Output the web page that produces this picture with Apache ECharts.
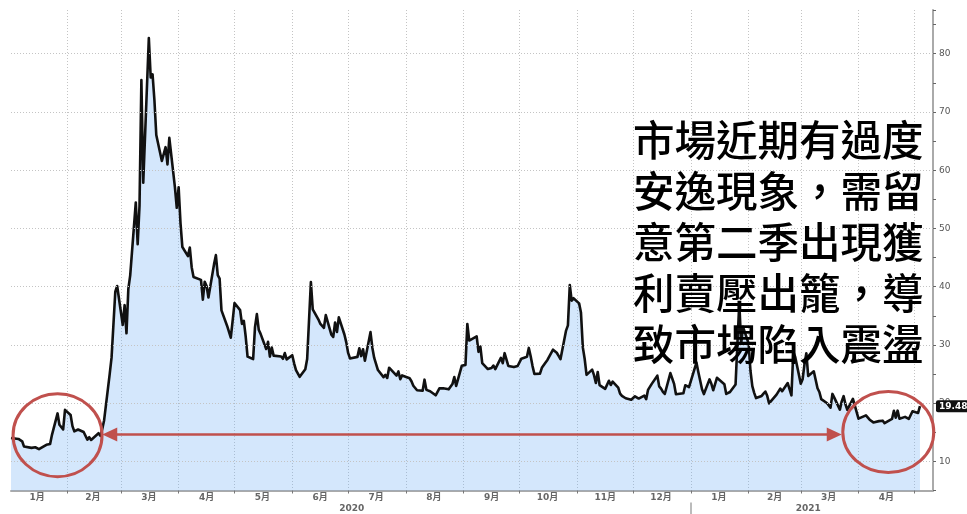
<!DOCTYPE html>
<html>
<head>
<meta charset="utf-8">
<script src="https://cdn.jsdelivr.net/npm/echarts@6/dist/echarts.min.js"></script>
<style>
  html, body { margin: 0; padding: 0; background: #fff; }
  #chart { width: 967px; height: 514px; }
</style>
</head>
<body>
<div id="chart"></div>
<script>
// VIX daily closes, one array per month (trading days in order)
const vix2020_01 = [14.00, 14.02, 13.85, 13.79, 13.45, 12.54, 12.56, 12.32, 12.39, 12.42, 12.32, 12.10, 12.85, 12.91, 12.98, 14.56, 18.23, 16.28, 16.39, 15.49, 18.84];
const vix2020_02 = [17.97, 16.05, 15.15, 14.96, 15.47, 15.04, 15.18, 13.74, 14.15, 13.68, 14.83, 14.38, 15.56, 17.08, 25.03, 27.85, 27.56, 39.16, 40.11];
const vix2020_03 = [33.42, 36.82, 31.99, 39.62, 41.94, 54.46, 47.30, 53.90, 75.47, 57.83, 82.69, 75.91, 76.45, 72.00, 66.04, 61.59, 61.67, 63.95, 61.00, 65.54, 57.08, 53.54];
const vix2020_04 = [57.06, 50.91, 46.80, 45.24, 46.70, 43.35, 41.67, 41.17, 37.76, 40.84, 40.11, 38.15, 43.83, 45.41, 41.98, 41.38, 35.93, 33.29, 33.57, 31.23, 34.15];
const vix2020_05 = [37.19, 35.97, 33.61, 34.12, 31.44, 27.98, 27.57, 33.04, 35.28, 32.61, 31.89, 29.30, 30.53, 27.99, 29.53, 28.16, 28.01, 27.62, 28.59, 27.51];
const vix2020_06 = [28.23, 26.84, 25.66, 25.81, 24.52, 25.81, 27.57, 27.57, 40.79, 36.09, 34.40, 33.67, 33.47, 32.94, 35.12, 31.77, 31.37, 33.84, 32.22, 34.73, 31.78, 30.43];
const vix2020_07 = [28.62, 27.68, 27.94, 29.43, 28.08, 29.26, 27.29, 32.19, 29.52, 27.76, 28.00, 25.68, 24.46, 24.84, 24.32, 26.08, 25.84, 24.74, 25.44, 24.10, 24.76, 24.46];
const vix2020_08 = [24.28, 23.76, 22.99, 22.65, 22.21, 22.13, 24.03, 22.28, 22.13, 22.05, 21.35, 21.51, 22.54, 22.72, 22.54, 22.37, 22.03, 23.27, 24.47, 22.96, 26.41];
const vix2020_09 = [26.12, 26.57, 33.60, 30.75, 31.46, 28.81, 29.71, 26.87, 25.85, 25.59, 26.04, 26.46, 25.83, 27.78, 26.86, 28.58, 28.51, 26.38, 26.19, 26.27, 26.37];
const vix2020_10 = [26.70, 27.63, 27.96, 29.48, 28.06, 26.36, 25.00, 25.07, 26.07, 26.40, 26.97, 27.41, 29.18, 29.35, 28.65, 28.11, 27.55, 32.46, 33.35, 40.28, 37.59, 38.02];
const vix2020_11 = [37.13, 35.55, 29.57, 27.58, 24.86, 25.75, 24.80, 23.45, 25.35, 23.10, 22.45, 22.71, 23.84, 23.11, 23.70, 22.66, 21.64, 21.25, 20.84, 20.57];
const vix2020_12 = [20.77, 21.17, 21.28, 20.79, 21.30, 20.68, 22.27, 22.52, 23.31, 24.72, 22.89, 22.50, 21.93, 21.57, 25.16, 24.23, 23.31, 21.53, 21.70, 23.08, 22.77, 22.75];
const vix2021_01 = [26.97, 25.34, 25.07, 22.37, 21.56, 24.08, 23.33, 22.21, 23.25, 24.34, 23.24, 21.58, 21.32, 21.91, 23.19, 23.02, 37.21, 30.21, 33.09];
const vix2021_02 = [30.24, 25.56, 22.91, 21.77, 20.87, 21.24, 21.63, 21.99, 21.25, 19.97, 21.46, 21.50, 22.49, 22.05, 23.45, 23.11, 21.34, 28.89, 27.95];
const vix2021_03 = [23.35, 24.10, 26.67, 28.57, 24.66, 25.47, 24.03, 22.56, 21.91, 20.69, 20.03, 19.79, 19.23, 21.58, 20.95, 18.88, 20.30, 21.20, 19.81, 18.86, 20.74, 19.61, 19.40];
const vix2021_04 = [17.33, 17.91, 18.12, 17.16, 16.95, 16.69, 16.91, 16.65, 16.99, 16.57, 16.25, 17.29, 18.68, 17.50, 18.71, 17.33, 17.64, 17.56, 17.28, 17.61, 18.61];
const vix2021_05 = [18.31, 19.48];

// Exchange holidays (no close on these weekdays)
const marketHolidays = ['2020-01-20', '2020-02-17', '2020-04-10', '2020-05-25', '2020-07-03', '2020-09-07',
  '2020-11-26', '2020-12-25', '2021-01-01', '2021-01-18', '2021-02-15', '2021-04-02'];

// Axis tick labels
const yLabelValues = [10, 20, 30, 40, 50, 60, 70, 80];
const yearLabels = { '2020-07-03': '2020', '2021-03-05': '2021' };
const yearDivider = '2021-01-01';

const annotationLines = ['市場近期有過度', '安逸現象，需留', '意第二季出現獲', '利賣壓出籠，導', '致市場陷入震盪'];

const monthBlocks = [
  [2020, 1, vix2020_01], [2020, 2, vix2020_02], [2020, 3, vix2020_03], [2020, 4, vix2020_04],
  [2020, 5, vix2020_05], [2020, 6, vix2020_06], [2020, 7, vix2020_07], [2020, 8, vix2020_08],
  [2020, 9, vix2020_09], [2020, 10, vix2020_10], [2020, 11, vix2020_11], [2020, 12, vix2020_12],
  [2021, 1, vix2021_01], [2021, 2, vix2021_02], [2021, 3, vix2021_03], [2021, 4, vix2021_04],
  [2021, 5, vix2021_05]
];

const DAY = 86400000;
const pad = n => (n < 10 ? '0' : '') + n;
const iso = t => { const d = new Date(t); return d.getUTCFullYear() + '-' + pad(d.getUTCMonth() + 1) + '-' + pad(d.getUTCDate()); };

// Calendar-day categories for the x axis
const startT = Date.UTC(2020, 0, 2), endT = Date.UTC(2021, 4, 11);
const days = [];
for (let t = startT; t <= endT; t += DAY) days.push(iso(t));

// Spread each month's closes over that month's trading days
const closeByDay = {};
monthBlocks.forEach(([y, m, vals]) => {
  const tdays = [];
  for (let d = 1; d <= 31; d++) {
    const t = Date.UTC(y, m - 1, d);
    const dt = new Date(t);
    if (dt.getUTCMonth() !== m - 1) break;
    const wd = dt.getUTCDay();
    const key = iso(t);
    if (wd === 0 || wd === 6 || marketHolidays.includes(key) || t < startT) continue;
    tdays.push(key);
  }
  vals.forEach((v, i) => { if (i < tdays.length) closeByDay[tdays[i]] = v; });
});
const seriesData = days.map(d => (d in closeByDay ? closeByDay[d] : null));
const lastClose = vix2021_05[vix2021_05.length - 1];

const isMonthStart = (i, v) => v.slice(8) === '01';
const isMonthMid = (i, v) => v.slice(8) === (v.slice(5, 7) === '02' ? '15' : '16');

const chart = echarts.init(document.getElementById('chart'), null, { renderer: 'canvas' });
const gridColor = '#c4c4c4';
const labelFont = 'DejaVu Sans, "Noto Sans CJK TC", sans-serif';

chart.setOption({
  animation: false,
  backgroundColor: '#fff',
  grid: { left: 11, right: 34, top: 10, bottom: 23.5 },
  xAxis: [{
    type: 'category',
    data: days,
    boundaryGap: false,
    axisLine: { lineStyle: { color: '#aaa', width: 2 } },
    axisTick: { interval: isMonthStart, length: 3, lineStyle: { color: '#777' } },
    axisLabel: {
      interval: isMonthMid, margin: 3, fontSize: 9, fontWeight: 'bold', color: '#666', fontFamily: labelFont,
      formatter: v => parseInt(v.slice(5, 7), 10) + '月'
    },
    splitLine: { show: true, interval: isMonthStart, lineStyle: { color: gridColor, type: [1, 2], width: 1 } }
  }, {
    type: 'category',
    data: days,
    boundaryGap: false,
    position: 'bottom',
    offset: 12,
    axisLine: { show: false },
    axisTick: { interval: (i, v) => v === yearDivider, length: 12, lineStyle: { color: '#bbb', width: 2 } },
    axisLabel: {
      interval: (i, v) => v in yearLabels, margin: 2, fontSize: 9, fontWeight: 'bold', color: '#666', fontFamily: labelFont,
      formatter: v => yearLabels[v] || ''
    },
    splitLine: { show: false }
  }],
  yAxis: {
    type: 'value',
    position: 'right',
    min: 5, max: 87.5, interval: 5,
    axisLine: { show: true, lineStyle: { color: '#aaa', width: 2 } },
    axisTick: { show: true, length: 3, lineStyle: { color: '#666' } },
    axisLabel: {
      margin: 6, fontSize: 9, color: '#555', fontFamily: labelFont,
      formatter: v => (yLabelValues.includes(v) ? String(v) : '')
    },
    splitLine: { show: false }
  },
  series: [{
    // horizontal guide lines at the labelled values
    type: 'line',
    data: [],
    z: 1,
    silent: true,
    markLine: {
      silent: true, symbol: 'none', label: { show: false },
      lineStyle: { color: gridColor, type: [1, 2], width: 1 },
      data: yLabelValues.map(v => ({ yAxis: v }))
    }
  }, {
    name: 'VIX',
    type: 'line',
    data: seriesData,
    z: 2,
    connectNulls: true,
    showSymbol: false,
    symbol: 'none',
    lineStyle: { color: '#111', width: 2.6, join: 'round' },
    areaStyle: { color: 'rgba(110,175,245,0.42)', origin: 'start' },
    markLine: {
      silent: true, symbol: 'none',
      lineStyle: { color: 'transparent', width: 1 },
      label: {
        show: true, position: 'end', distance: 3,
        formatter: () => lastClose.toFixed(2),
        backgroundColor: '#111', color: '#fff', fontSize: 9, fontWeight: 'bold', fontFamily: labelFont,
        padding: [2, 3, 1, 3], borderRadius: 2
      },
      data: [{ yAxis: lastClose }]
    }
  }]
});

// Annotation overlay: circled ranges, double arrow and commentary
const red = '#c0504d';
const px = (day, v) => chart.convertToPixel({ xAxisIndex: 0, yAxisIndex: 0 }, [days.indexOf(day), v]);
const c1 = px('2020-01-27', 14.5);
const c2 = px('2021-04-17', 15.05);
const aL = px('2020-02-20', 14.6);
const aR = px('2021-03-23', 14.6);
const head = 15, half = 7;

chart.setOption({
  graphic: [
    { type: 'ellipse', shape: { cx: c1[0], cy: c1[1], rx: 44.5, ry: 41.5 }, style: { fill: 'none', stroke: red, lineWidth: 3 }, z: 100 },
    { type: 'ellipse', shape: { cx: c2[0], cy: c2[1], rx: 45.5, ry: 40.5 }, style: { fill: 'none', stroke: red, lineWidth: 3 }, z: 100 },
    { type: 'line', shape: { x1: aL[0] + head - 2, y1: aL[1], x2: aR[0] - head + 2, y2: aR[1] }, style: { stroke: red, lineWidth: 2.5 }, z: 100 },
    { type: 'polygon', shape: { points: [[aL[0], aL[1]], [aL[0] + head, aL[1] - half], [aL[0] + head, aL[1] + half]] }, style: { fill: red }, z: 100 },
    { type: 'polygon', shape: { points: [[aR[0], aR[1]], [aR[0] - head, aR[1] - half], [aR[0] - head, aR[1] + half]] }, style: { fill: red }, z: 100 },
    {
      type: 'text', left: 633, top: 115, z: 100,
      style: {
        text: annotationLines.join('\n'),
        fontSize: 41.5, fontWeight: 500, fontFamily: '"Noto Sans CJK TC", sans-serif',
        lineHeight: 51, fill: '#000'
      }
    }
  ]
});
</script>
</body>
</html>
